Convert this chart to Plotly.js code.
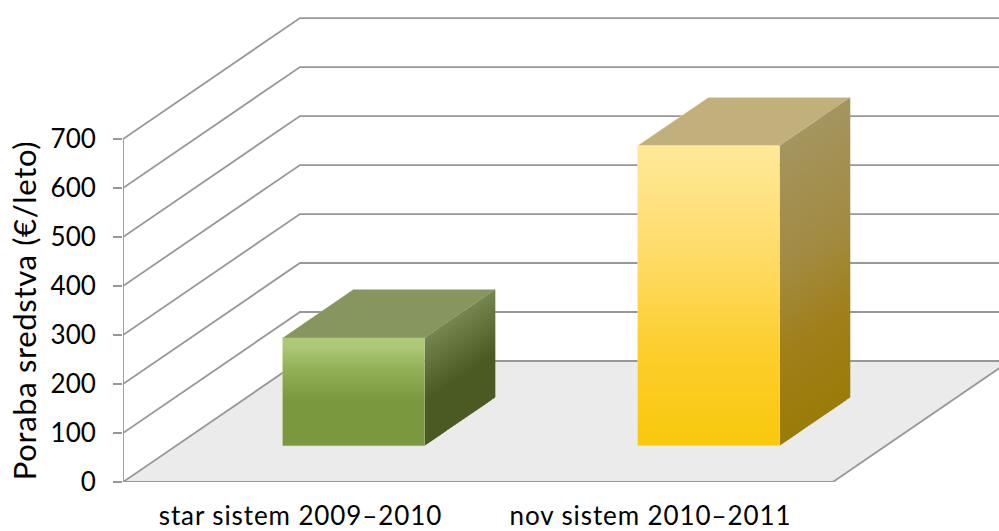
<!DOCTYPE html>
<html>
<head>
<meta charset="utf-8">
<script src="https://cdn.plot.ly/plotly-3.0.1.min.js"></script>
<style>
html,body{margin:0;padding:0;background:#fff}
#chart{width:999px;height:531px}
#chart .xtick text{letter-spacing:0.9px}
#chart .y2title{letter-spacing:0.65px}
</style>
</head>
<body>
<div id="chart"></div>
<script>
// Chart data
const categories = ['star sistem 2009–2010', 'nov sistem 2010–2011'];
const usage = [220, 612];
const valueTicks = [0, 100, 200, 300, 400, 500, 600, 700];

// Column colours
const frontStops = [
  [[0, '#7a983e'], [0.42, '#7a983e'], [0.72, '#93b257'], [0.92, '#acc976'], [1, '#acc976']],
  [[0, '#f8c90c'], [0.3, '#fdcd2a'], [0.65, '#fedc6a'], [1, '#ffe899']]
];
const sideStops = [
  [[0, '#75854f'], [0.58, '#4b5a22'], [1, '#4b5a22']],
  [[0, '#a4955f'], [0.42, '#a28a40'], [0.7, '#a07f1a'], [1, '#9a7c08']]
];
const roofColours = ['#87965f', '#c2b07c'];
const edgeColours = ['rgba(190,210,150,0.3)', 'rgba(255,240,190,0.4)'];

// Oblique projection: a depth of 1 is the full floor depth, back wall included
const DEPTH_X = 0.4986, DEPTH_Y = 246.9;
const BAR_WIDTH = 0.4, BAR_FRONT = 0.3, BAR_BACK = 0.7;
const project = (cx, v, d) => [cx + d * DEPTH_X, v + d * DEPTH_Y];
const LEFT = -0.5, RIGHT = 1.5;
const GRID = '#989898';
const GRID_WIDTH = 1.8;

// The drawing axis runs past 700 to leave room for the projected depth;
// the visible value axis covers 0-700 on the share of the height below.
const DRAW_MAX = 983.7;
const SCALE_SHARE = 700 / DRAW_MAX;

function poly(points, style) {
  return Object.assign({
    x: points.map(p => p[0]), y: points.map(p => p[1]),
    type: 'scatter', mode: 'lines', hoverinfo: 'skip', showlegend: false,
    line: {width: 0}
  }, style);
}

const traces = [];

// Floor
traces.push(poly([project(LEFT, 0, 0), project(RIGHT, 0, 0), project(RIGHT, 0, 1), project(LEFT, 0, 1), project(LEFT, 0, 0)],
  {fill: 'toself', fillcolor: '#ebebeb'}));

// Gridlines running along the side wall and back wall
valueTicks.forEach(v => {
  traces.push(poly([project(LEFT, v, 0), project(LEFT, v, 1), project(RIGHT, v, 1)],
    {line: {color: GRID, width: GRID_WIDTH}}));
});

// Floor front and right edges
traces.push(poly([project(LEFT, 0, 0), project(RIGHT, 0, 0), project(RIGHT, 0, 1)],
  {line: {color: GRID, width: GRID_WIDTH}}));

// Value axis line, on the visible value axis
traces.push(poly([project(LEFT, 0, 0), project(LEFT, 700, 0)],
  {yaxis: 'y2', line: {color: GRID, width: GRID_WIDTH}}));

// Columns
usage.forEach((v, i) => {
  const x0 = i - BAR_WIDTH / 2, x1 = i + BAR_WIDTH / 2;

  // Roof
  traces.push(poly([project(x0, v, BAR_FRONT), project(x1, v, BAR_FRONT), project(x1, v, BAR_BACK), project(x0, v, BAR_BACK), project(x0, v, BAR_FRONT)],
    {fill: 'toself', fillcolor: roofColours[i], line: {color: edgeColours[i], width: 0.8}}));

  // Right side, built from narrow slices so the shading follows the slope of the face
  const slices = 24;
  for (let s = 0; s < slices; s++) {
    const a = BAR_FRONT + (BAR_BACK - BAR_FRONT) * s / slices;
    const b = BAR_FRONT + (BAR_BACK - BAR_FRONT) * Math.min(1, (s + 1.6) / slices);
    const [, topY] = project(x1, v, a);
    const [, baseY] = project(x1, 0, a);
    traces.push(poly([project(x1, 0, a), project(x1, 0, b), project(x1, v, b), project(x1, v, a), project(x1, 0, a)], {
      fill: 'toself',
      fillgradient: {type: 'vertical', start: topY, stop: baseY, colorscale: sideStops[i]}
    }));
  }

  // Front
  const [, frontTop] = project(x0, v, BAR_FRONT);
  const [, frontBase] = project(x0, 0, BAR_FRONT);
  traces.push(poly([project(x0, 0, BAR_FRONT), project(x1, 0, BAR_FRONT), project(x1, v, BAR_FRONT), project(x0, v, BAR_FRONT), project(x0, 0, BAR_FRONT)], {
    fill: 'toself',
    fillgradient: {type: 'vertical', start: frontBase, stop: frontTop, colorscale: frontStops[i]},
    line: {color: edgeColours[i], width: 0.8}
  }));
});

const FONT = 'Lato, "Open Sans", sans-serif';
const layout = {
  width: 999, height: 531,
  margin: {l: 123, r: 0, t: 0, b: 49},
  paper_bgcolor: '#fff', plot_bgcolor: 'rgba(0,0,0,0)',
  showlegend: false,
  xaxis: {
    range: [LEFT, 1.968], showgrid: false, zeroline: false, showline: false,
    tickmode: 'array', tickvals: [0, 0.986], ticktext: categories,
    ticks: '', ticklabelstandoff: 16,
    tickfont: {family: FONT, size: 26, color: '#000'}
  },
  yaxis: {range: [0, DRAW_MAX], visible: false},
  yaxis2: {
    domain: [0, SCALE_SHARE], anchor: 'x',
    range: [0, 700], showgrid: false, zeroline: false, showline: false,
    tickmode: 'array', tickvals: valueTicks,
    ticks: 'outside', ticklen: 9, tickwidth: GRID_WIDTH, tickcolor: GRID,
    ticklabelstandoff: 12,
    tickfont: {family: FONT, size: 26, color: '#000'},
    title: {text: 'Poraba sredstva (€/leto)', font: {family: FONT, size: 31, color: '#000'}, standoff: 4}
  }
};

Plotly.newPlot('chart', traces, layout, {displayModeBar: false, staticPlot: true});
</script>
</body>
</html>
